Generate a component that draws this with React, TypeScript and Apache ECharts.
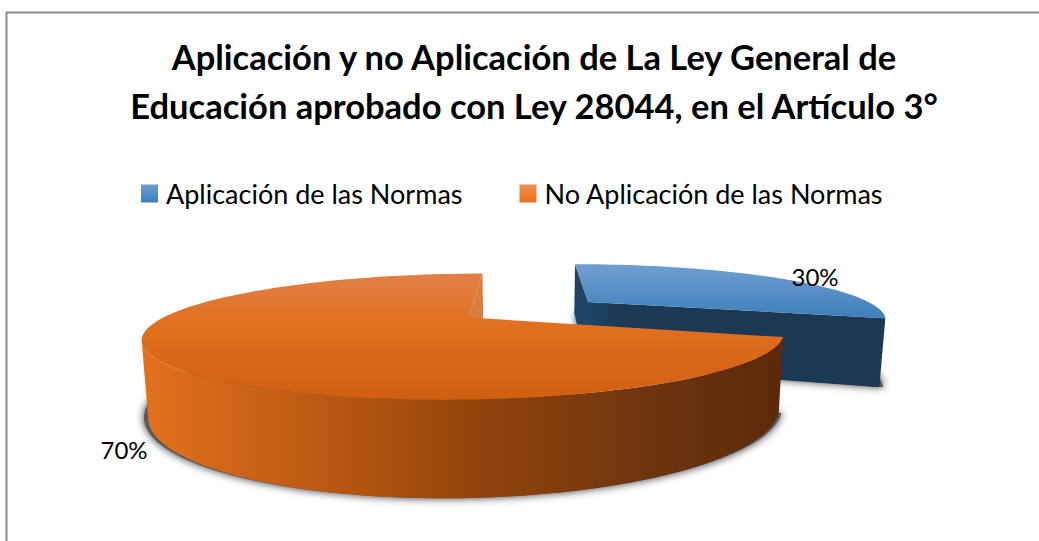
import React, { useEffect, useRef } from "react";
import * as echarts from "echarts";

// ---- data ----
const categories = ["Aplicación de las Normas", "No Aplicación de las Normas"];
const shares = [30, 70];
const titleLines = [
  "Aplicación y no Aplicación de La Ley General de",
  "Educación aprobado con Ley 28044, en el Artículo 3°",
];

// ---- 3D camera (layout only) ----
const CX = 528;
const CY = 309.8;
const RX = 293;
const RY = 52.7;
const PERSP = 0.29;
const DEPTH = 66;
const BOTTOM_SHRINK = 0.017;
const SHADOW_SHRINK = 0.006;
const EXPLODE = [0.265, 0.24];
const FONT = "Lato, 'Open Sans', sans-serif";
const LABEL_XY = [
  [815, 276],
  [124, 449],
];

const faceStyles = [
  {
    top: [
      [0, "#709fd0"],
      [1, "#3d7fbd"],
    ],
    wall: [
      [0, "#204668"],
      [0.1, "#1c3a55"],
      [1, "#1c3853"],
    ],
    cut: "#1f4465",
    legend: [
      [0, "#6b9dd2"],
      [1, "#3c7fc0"],
    ],
  },
  {
    top: [
      [0, "#e28049"],
      [0.4, "#e2701f"],
      [1, "#d25e10"],
    ],
    wall: [
      [0, "#e2711d"],
      [0.24, "#c25c13"],
      [0.52, "#93440c"],
      [0.8, "#6c340d"],
      [1, "#5b2a0a"],
    ],
    cut: "#d97c40",
    legend: [
      [0, "#f0914f"],
      [1, "#e8701c"],
    ],
  },
];

const grad = (stops: any[], horizontal: boolean) => ({
  type: "linear",
  x: 0,
  y: 0,
  x2: horizontal ? 1 : 0,
  y2: horizontal ? 0 : 1,
  colorStops: stops.map(([offset, color]) => ({ offset, color })),
});

const rad = (d: number) => (d * Math.PI) / 180;

function sliceAngles(i: number) {
  const total = shares.reduce((a, b) => a + b, 0);
  const before = shares.slice(0, i).reduce((a, b) => a + b, 0);
  return [(before / total) * 360, ((before + shares[i]) / total) * 360];
}

function project(i: number, theta: number, r: number, h: number, shrink = BOTTOM_SHRINK) {
  const [a, b] = sliceAngles(i);
  const mid = rad((a + b) / 2);
  const u = EXPLODE[i] * Math.sin(mid) + r * Math.sin(rad(theta));
  const v = EXPLODE[i] * Math.cos(mid) + r * Math.cos(rad(theta));
  const s = 1 / (1 + PERSP * v);
  return [CX + RX * u * s * (1 - shrink * h), CY - RY * v * s + DEPTH * s * h];
}

function arc(i: number, from: number, to: number, h: number, shrink?: number) {
  const n = Math.max(2, Math.ceil(Math.abs(to - from) / 2));
  const pts: number[][] = [];
  for (let k = 0; k <= n; k++) pts.push(project(i, from + ((to - from) * k) / n, 1, h, shrink));
  return pts;
}

function renderShadow(params: any) {
  const i = params.dataIndex;
  const [a, b] = sliceAngles(i);
  const pts = [project(i, 0, 0, 1, SHADOW_SHRINK), ...arc(i, a, b, 1, SHADOW_SHRINK)];
  return {
    type: "polygon",
    shape: { points: pts },
    style: { fill: "#5a5a5a", shadowBlur: 8, shadowColor: "rgba(0,0,0,0.8)" },
    silent: true,
  };
}

function renderSlice(i: number) {
  return (_params: any, api: any) => {
    const [a, b] = sliceAngles(i);
    const st = faceStyles[i];
    const children: any[] = [];
    const cutWall = (theta: number, fill: any) => ({
      type: "polygon",
      shape: {
        points: [
          project(i, theta, 0, 0),
          project(i, theta, 1, 0),
          project(i, theta, 1, 1),
          project(i, theta, 0, 1),
        ],
      },
      style: { fill },
    });
    if (i === 0) {
      children.push(cutWall(a, st.cut));
      children.push(cutWall(b, grad(st.wall, true)));
    } else {
      children.push(cutWall(b, st.cut));
    }
    // outer wall: only the part of the rim that faces the viewer
    const from = Math.max(a, 108);
    const to = Math.min(b, 249);
    if (to > from) {
      children.push({
        type: "polygon",
        shape: { points: [...arc(i, from, to, 0), ...arc(i, to, from, 1)] },
        style: { fill: grad(st.wall, true) },
      });
    }
    children.push({
      type: "polygon",
      shape: { points: [project(i, 0, 0, 0), ...arc(i, a, b, 0)] },
      style: { fill: grad(st.top, false) },
    });
    children.push({
      type: "text",
      x: LABEL_XY[i][0],
      y: LABEL_XY[i][1],
      style: {
        text: `${api.value(0)}%`,
        fontFamily: "Lato",
        fontSize: 24,
        fill: "#000000",
        align: "center",
        verticalAlign: "middle",
      },
    });
    return { type: "group", children };
  };
}

export default function App() {
  const ref = useRef<HTMLDivElement>(null);
  useEffect(() => {
    document.body.style.margin = "0";
    const chart = echarts.init(ref.current!, null, { renderer: "svg" });
    chart.setOption({
      animation: false,
      backgroundColor: "#ffffff",
      title: {
        text: titleLines.join("\n"),
        left: 529,
        top: 27,
        textAlign: "center",
        textStyle: { fontFamily: FONT, fontWeight: "bold", fontSize: 34.5, lineHeight: 49, color: "#000000" },
      },
      legend: {
        left: 136,
        top: 175,
        itemWidth: 17,
        itemHeight: 18,
        itemGap: 57,
        icon: "rect",
        textStyle: { fontFamily: FONT, fontSize: 27, color: "#000000", padding: [0, 0, 0, 3] },
        data: categories.map((name, i) => ({
          name,
          itemStyle: { color: grad(faceStyles[i].legend, false) },
        })),
      },
      graphic: [
        { type: "line", shape: { x1: 6.5, y1: 12, x2: 6.5, y2: 541 }, style: { stroke: "#8c8c8c", lineWidth: 2 }, silent: true },
        { type: "line", shape: { x1: 6, y1: 12.5, x2: 1039, y2: 12.5 }, style: { stroke: "#8c8c8c", lineWidth: 2 }, silent: true },
      ],
      series: [
        {
          type: "custom",
          name: "sombra",
          coordinateSystem: "none",
          renderItem: renderShadow,
          data: shares.map((v) => [v]),
          silent: true,
          z: 1,
        },
        ...categories.map((name, i) => ({
          type: "custom",
          name,
          coordinateSystem: "none",
          renderItem: renderSlice(i),
          data: [[shares[i]]],
          itemStyle: { color: faceStyles[i].legend[1][1] },
          z: 2 + i,
        })),
      ],
    });
    return () => chart.dispose();
  }, []);
  return <div ref={ref} style={{ width: 1039, height: 541 }} />;
}
